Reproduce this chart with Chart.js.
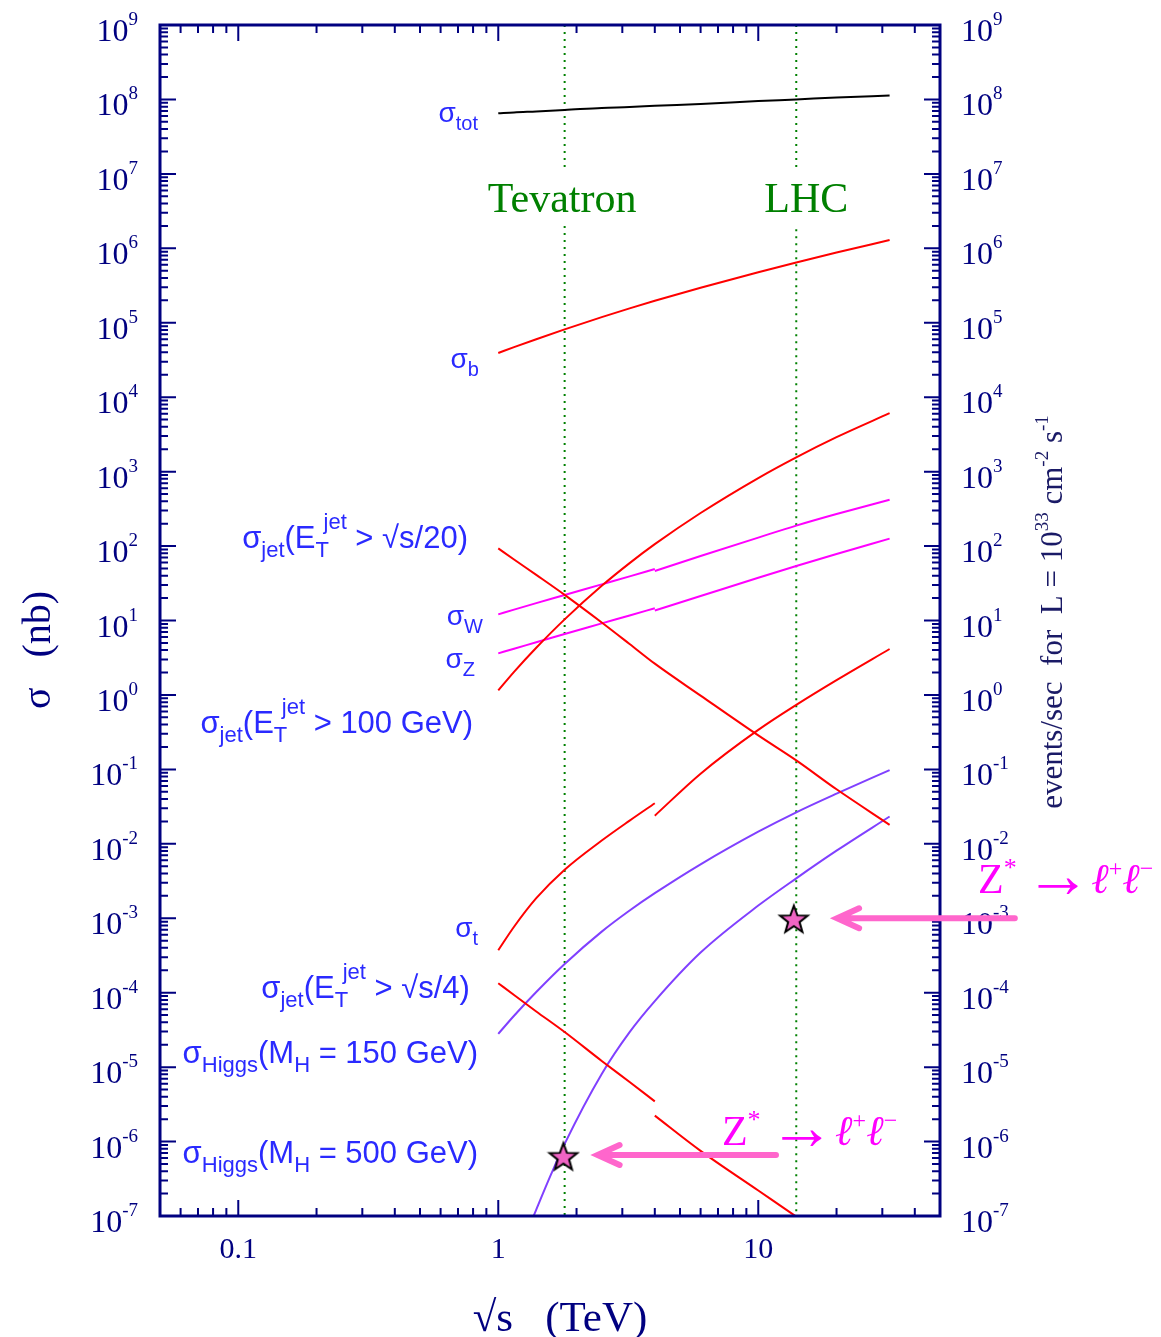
<!DOCTYPE html>
<html>
<head>
<meta charset="utf-8">
<script src="https://cdn.jsdelivr.net/npm/chart.js@4.4.1/dist/chart.umd.min.js"></script>
<style>
  html, body { margin: 0; padding: 0; background: #fff; }
  #wrap { width: 1161px; height: 1337px; }
</style>
</head>
<body>
<div id="wrap"><canvas id="c" width="1161" height="1337"></canvas></div>
<script>
// --- data: sqrt(s) in TeV, cross sections in nb ---

// energy grids
const eAll = [1, 1.15, 1.4, 1.8, 2.5, 3.2, 4, 6, 10, 14, 20, 32];
const eLow = [1, 1.15, 1.4, 1.8, 2.5, 3.2, 4];   // p-pbar part
const eHigh = [4, 6, 10, 14, 20, 32];            // p-p part
const eHiggs500 = [1.3, 1.4, 1.6, 1.8, 2.5, 3.2, 4, 6, 10, 14, 20, 32];

// continuous curves (on eAll)
const sigTot = [6.5e7, 6.7e7, 6.9e7, 7.2e7, 7.7e7, 7.9e7, 8.2e7, 8.7e7, 9.5e7, 1.0e8, 1.06e8, 1.13e8];
const sigB = [3.93e4, 4.7e4, 6.01e4, 8.15e4, 1.19e5, 1.56e5, 1.97e5, 2.95e5, 4.78e5, 6.46e5, 8.77e5, 1.29e6];
const sigJet100 = [1.15, 2.04, 4.3, 10.35, 29.2, 59, 106, 278, 820, 1556, 2904, 6095];
const sigJetS20 = [93, 66, 41, 22.1, 9.4, 4.83, 2.63, 0.98, 0.286, 0.132, 0.054, 0.018];
const sigHiggs150 = [2.8e-5, 4.9e-5, 1.02e-4, 2.43e-4, 6.61e-4, 1.27e-3, 2.17e-3, 5.3e-3, 1.455e-2, 2.65e-2, 4.72e-2, 9.77e-2];
const sigHiggs500 = [6.5e-8, 1.22e-7, 3.7e-7, 9.3e-7, 8.1e-6, 2.95e-5, 7.71e-5, 3.46e-4, 1.48e-3, 3.44e-3, 8.09e-3, 2.33e-2];

// curves with a step at 4 TeV (p-pbar -> p-p)
const sigWLow = [12.1, 14.0, 17.1, 22, 30.6, 39.2, 49.2];
const sigWHigh = [46.2, 73.5, 130, 188, 269, 418];
const sigZLow = [3.62, 4.18, 5.1, 6.59, 9.14, 11.7, 14.6];
const sigZHigh = [13.6, 21.3, 37.5, 54, 78.2, 126];
const sigTopLow = [3.72e-4, 7.69e-4, 1.86e-3, 4.49e-3, 1.107e-2, 2.05e-2, 3.51e-2];
const sigTopHigh = [2.39e-2, 8.75e-2, 0.339, 0.735, 1.58, 4.14];
const sigJetS4Low = [1.34e-4, 9.3e-5, 5.6e-5, 2.96e-5, 1.21e-5, 6.3e-6, 3.47e-6];
const sigJetS4High = [2.23e-6, 7.5e-7, 2.2e-7, 9.8e-8, 4.2e-8, 1.3e-8];

// colliders (vertical dotted lines) and the gap left for their names
const colliderE = [1.8, 14];
const colliderNames = ['Tevatron', 'LHC'];
const colliderNameE = [1.76, 15.3];
const colliderGapTop = [1.2e7, 1.1e7];
const colliderGapBottom = [2.0e6, 1.8e6];

// Z* -> l+ l- stars
const starE = [1.78, 13.7];
const starSigma = [6.27e-7, 9.7e-4];

// axis ticks
const yDecades = [-7, -6, -5, -4, -3, -2, -1, 0, 1, 2, 3, 4, 5, 6, 7, 8, 9];
const xMajor = [0.1, 1, 10];
const xMajorText = ['0.1', '1', '10'];

// --- look ---
const NAVY = '#000080';
const BLUE = '#2a2aff';
const RED = '#ff0000';
const MAG = '#ff00ff';
const PUR = '#8040ff';
const GRN = '#008000';
const PINK = '#ff66cc';
const SANS = '"Liberation Sans", Arial, sans-serif';
const SERIF = '"Liberation Serif", "Times New Roman", serif';

function pts(xv, yv) { return xv.map((x, i) => ({ x: x, y: yv[i] })); }

function curve(xv, yv, color) {
    return {
        data: pts(xv, yv),
        showLine: true,
        borderColor: color,
        borderWidth: 2,
        pointRadius: 0,
        fill: false,
        cubicInterpolationMode: 'monotone'
    };
}

function makeStar() {
    const c = document.createElement('canvas');
    c.width = 34; c.height = 34;
    const g = c.getContext('2d');
    g.beginPath();
    for (let i = 0; i < 10; i++) {
        const r = i % 2 ? 6 : 14.5;
        const a = -Math.PI / 2 + i * Math.PI / 5;
        g.lineTo(17 + r * Math.cos(a), 18 + r * Math.sin(a));
    }
    g.closePath();
    g.fillStyle = '#f064c4';
    g.fill();
    g.lineWidth = 2;
    g.strokeStyle = '#000';
    g.stroke();
    return c;
}

// text made of runs (subscripts / superscripts)
function drawRuns(ctx, runs, x, y, align) {
    const widths = runs.map(r => {
        ctx.font = r.f;
        let w = ctx.measureText(r.t).width;
        if (r.sup) { ctx.font = r.sup.f; w = Math.max(w, (r.sup.dx || 0) + ctx.measureText(r.sup.t).width); }
        return w;
    });
    const total = widths.reduce((a, b) => a + b, 0);
    let cx = align === 'right' ? x - total : (align === 'center' ? x - total / 2 : x);
    ctx.textAlign = 'left';
    ctx.textBaseline = 'alphabetic';
    runs.forEach((r, i) => {
        ctx.font = r.f;
        ctx.fillText(r.t, cx, y + (r.dy || 0));
        if (r.sup) { ctx.font = r.sup.f; ctx.fillText(r.sup.t, cx + (r.sup.dx || 0), y + r.sup.dy); }
        cx += widths[i];
    });
}

const M = '28px ' + SANS, S = '20px ' + SANS;          // short labels
const L = '31px ' + SANS, LS = '22px ' + SANS;         // long labels
const sub = t => ({ t: t, f: S, dy: 8 });
const lsub = t => ({ t: t, f: LS, dy: 9 });
const ET = { t: 'T', f: LS, dy: 9, sup: { t: 'jet', f: LS, dy: -19, dx: 8 } };

// curve labels: right edge (TeV), baseline (nb)
const curveLabels = [
    { x: 0.836, y: 5.0e7, runs: [{ t: 'σ', f: M }, sub('tot')] },
    { x: 0.843, y: 2.47e4, runs: [{ t: 'σ', f: M }, sub('b')] },
    { x: 0.765, y: 94, runs: [{ t: 'σ', f: L }, lsub('jet'), { t: '(E', f: L }, ET, { t: ' > √s/20)', f: L }] },
    { x: 0.873, y: 8.7, runs: [{ t: 'σ', f: M }, sub('W')] },
    { x: 0.814, y: 2.3, runs: [{ t: 'σ', f: M }, sub('Z')] },
    { x: 0.80, y: 0.308, runs: [{ t: 'σ', f: L }, lsub('jet'), { t: '(E', f: L }, ET, { t: ' > 100 GeV)', f: L }] },
    { x: 0.836, y: 5.6e-4, runs: [{ t: 'σ', f: M }, sub('t')] },
    { x: 0.778, y: 8.5e-5, runs: [{ t: 'σ', f: L }, lsub('jet'), { t: '(E', f: L }, ET, { t: ' > √s/4)', f: L }] },
    { x: 0.836, y: 1.14e-5, runs: [{ t: 'σ', f: L }, lsub('Higgs'), { t: '(M', f: L }, lsub('H'), { t: ' = 150 GeV)', f: L }] },
    { x: 0.836, y: 5.15e-7, runs: [{ t: 'σ', f: L }, lsub('Higgs'), { t: '(M', f: L }, lsub('H'), { t: ' = 500 GeV)', f: L }] }
];

// Z* -> l+l- annotations: text start (TeV, nb), arrow tail / tip (TeV) and height (nb)
const zLabelX = [70, 7.25];
const zLabelY = [2.18e-3, 9.0e-7];
const arrowTail = [97, 11.7];
const arrowTip = [20.1, 2.41];
const arrowY = [1.0e-3, 6.6e-7];

const deco = {
    id: 'deco',
    afterDraw(chart) {
        const ctx = chart.ctx, a = chart.chartArea;
        const X = v => chart.scales.x.getPixelForValue(v);
        const Y = v => chart.scales.y.getPixelForValue(v);
        ctx.save();

        // frame
        ctx.strokeStyle = NAVY;
        ctx.lineWidth = 3;
        ctx.strokeRect(a.left, a.top, a.right - a.left, a.bottom - a.top);

        // ticks, all pointing inwards
        ctx.lineWidth = 2;
        ctx.beginPath();
        const hTick = (y, len) => {
            ctx.moveTo(a.left, y); ctx.lineTo(a.left + len, y);
            ctx.moveTo(a.right, y); ctx.lineTo(a.right - len, y);
        };
        const vTick = (x, len) => {
            ctx.moveTo(x, a.bottom); ctx.lineTo(x, a.bottom - len);
            ctx.moveTo(x, a.top); ctx.lineTo(x, a.top + len);
        };
        yDecades.forEach(n => {
            hTick(Y(Math.pow(10, n)), 16);
            if (n < 9) for (let k = 2; k <= 9; k++) hTick(Y(k * Math.pow(10, n)), 8);
        });
        xMajor.forEach(v => vTick(X(v), 16));
        [0.01, 0.1, 1, 10].forEach(b => {
            for (let k = 2; k <= 9; k++) {
                const v = k * b;
                if (v > 0.0501 && v < 49.9) vTick(X(v), 8);
            }
        });
        ctx.stroke();

        // tick labels
        ctx.fillStyle = NAVY;
        const big = '32px ' + SERIF, small = '19px ' + SERIF;
        yDecades.forEach(n => {
            const y = Y(Math.pow(10, n));
            const runs = [{ t: '10', f: big, dy: 16 }, { t: String(n), f: small, dy: 0 }];
            drawRuns(ctx, runs, 138, y, 'right');
            drawRuns(ctx, runs, 961, y, 'left');
        });
        ctx.font = '30px ' + SERIF;
        ctx.textAlign = 'center';
        xMajor.forEach((v, i) => ctx.fillText(xMajorText[i], X(v), 1258));

        // axis titles
        drawRuns(ctx, [{ t: '√s   (TeV)', f: '43px ' + SERIF }], 560, 1331, 'center');
        ctx.save();
        ctx.translate(50, 650);
        ctx.rotate(-Math.PI / 2);
        drawRuns(ctx, [{ t: 'σ   (nb)', f: '40px ' + SERIF }], 0, 0, 'center');
        ctx.restore();
        ctx.save();
        ctx.fillStyle = '#1a1a66';
        ctx.translate(1062, 612);
        ctx.rotate(-Math.PI / 2);
        const R = '31px ' + SERIF, Rs = '19px ' + SERIF;
        drawRuns(ctx, [
            { t: 'events/sec  for  L = 10', f: R }, { t: '33', f: Rs, dy: -14 },
            { t: ' cm', f: R }, { t: '-2', f: Rs, dy: -14 },
            { t: ' s', f: R }, { t: '-1', f: Rs, dy: -14 }
        ], 0, 0, 'center');
        ctx.restore();

        // collider names
        ctx.fillStyle = GRN;
        ctx.font = '42px ' + SERIF;
        ctx.textAlign = 'center';
        colliderNames.forEach((name, i) => ctx.fillText(name, X(colliderNameE[i]), Y(3.08e6)));

        // curve labels
        ctx.fillStyle = BLUE;
        curveLabels.forEach(l => drawRuns(ctx, l.runs, X(l.x), Y(l.y), 'right'));

        // Z* -> l+ l-
        ctx.fillStyle = MAG;
        const Zf = '42px ' + SERIF, Zs = '26px ' + SERIF, Lf = 'italic 42px ' + SERIF, Ls = '24px ' + SERIF;
        const Af = '66px ' + SERIF;
        zLabelX.forEach((zx, i) => {
            drawRuns(ctx, [
                { t: 'Z', f: Zf }, { t: '*', f: Zs, dy: -17 },
                { t: ' ', f: '34px ' + SERIF }, { t: '→', f: Af, dy: 4 },
                { t: 'ℓ', f: Lf }, { t: '+', f: Ls, dy: -17 },
                { t: 'ℓ', f: Lf }, { t: '−', f: Ls, dy: -17 }
            ], X(zx), Y(zLabelY[i]), 'left');
        });

        // pink arrows
        ctx.strokeStyle = PINK;
        ctx.lineWidth = 6;
        ctx.lineCap = 'round';
        arrowTail.forEach((t, i) => {
            const y = Y(arrowY[i]), x0 = X(t), x1 = X(arrowTip[i]);
            ctx.beginPath();
            ctx.moveTo(x0, y); ctx.lineTo(x1 + 2, y);
            ctx.moveTo(x1 + 22, y - 10); ctx.lineTo(x1, y); ctx.lineTo(x1 + 22, y + 10);
            ctx.stroke();
        });

        ctx.restore();
    }
};

const datasets = [];
datasets.push({
    data: pts(starE, starSigma),
    showLine: false,
    pointStyle: makeStar(),
    pointRadius: 14
});
datasets.push(curve(eAll, sigTot, '#000000'));
datasets.push(curve(eAll, sigB, RED));
datasets.push(curve(eAll, sigJet100, RED));
datasets.push(curve(eAll, sigJetS20, RED));
datasets.push(curve(eLow, sigWLow, MAG));
datasets.push(curve(eHigh, sigWHigh, MAG));
datasets.push(curve(eLow, sigZLow, MAG));
datasets.push(curve(eHigh, sigZHigh, MAG));
datasets.push(curve(eLow, sigTopLow, RED));
datasets.push(curve(eHigh, sigTopHigh, RED));
datasets.push(curve(eLow, sigJetS4Low, RED));
datasets.push(curve(eHigh, sigJetS4High, RED));
datasets.push(curve(eAll, sigHiggs150, PUR));
datasets.push(curve(eHiggs500, sigHiggs500, PUR));
colliderE.forEach((e, i) => {
    datasets.push({
        data: [{ x: e, y: 1e9 }, { x: e, y: colliderGapTop[i] }, { x: e, y: null },
               { x: e, y: colliderGapBottom[i] }, { x: e, y: 1e-7 }],
        showLine: true,
        spanGaps: false,
        borderColor: GRN,
        borderWidth: 2,
        borderDash: [2, 5],
        pointRadius: 0,
        tension: 0
    });
});

new Chart(document.getElementById('c'), {
    type: 'scatter',
    data: { datasets: datasets },
    options: {
        responsive: false,
        animation: false,
        events: [],
        layout: { padding: { left: 160, top: 25, right: 221, bottom: 121 } },
        plugins: { legend: { display: false }, tooltip: { enabled: false } },
        scales: {
            x: { type: 'logarithmic', min: 0.05, max: 50, display: false },
            y: { type: 'logarithmic', min: 1e-7, max: 1e9, display: false }
        }
    },
    plugins: [deco]
});
</script>
</body>
</html>
